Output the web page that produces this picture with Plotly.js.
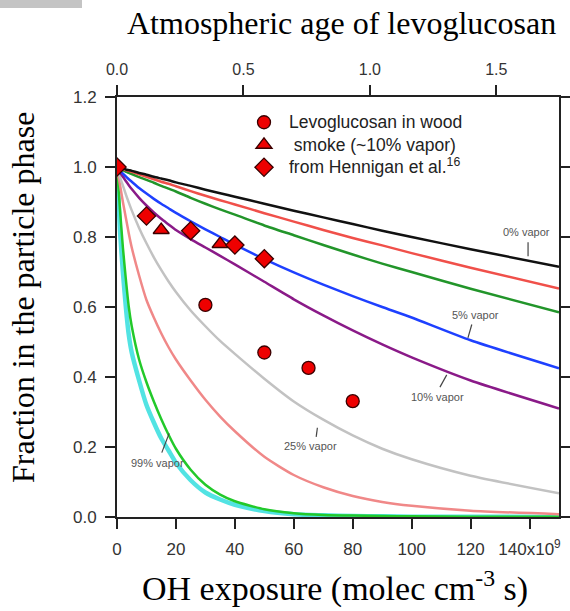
<!DOCTYPE html>
<html>
<head>
<meta charset="utf-8">
<script src="https://cdn.plot.ly/plotly-3.0.1.min.js"></script>
<style>
  html, body { margin: 0; padding: 0; background: #fff; }
  #chart { width: 570px; height: 611px; }
</style>
</head>
<body>
<div id="chart"></div>
<script>
// OH exposure grid (units of 1e9 molec cm-3 s)
const exposure = [0, 1, 2, 3, 4, 5, 7.5, 10, 12.5, 15, 17.5, 20, 25, 30, 35, 40, 50, 60, 70, 80, 90, 100, 120, 150];

// Modelled particle-phase fraction for different initial vapor fractions
const vapor0   = [1, 0.998, 0.996, 0.993, 0.991, 0.989, 0.983, 0.978, 0.972, 0.967, 0.962, 0.956, 0.946, 0.935, 0.925, 0.915, 0.895, 0.875, 0.856, 0.837, 0.818, 0.800, 0.765, 0.715];
const vaporA   = [1, 0.997, 0.994, 0.991, 0.989, 0.986, 0.979, 0.972, 0.965, 0.958, 0.952, 0.945, 0.931, 0.918, 0.905, 0.893, 0.868, 0.844, 0.820, 0.797, 0.776, 0.754, 0.712, 0.653];
const vaporB   = [1, 0.995, 0.991, 0.987, 0.983, 0.980, 0.971, 0.963, 0.955, 0.946, 0.938, 0.930, 0.912, 0.895, 0.879, 0.864, 0.833, 0.805, 0.777, 0.750, 0.724, 0.700, 0.652, 0.585];
const vapor5   = [1, 0.990, 0.981, 0.973, 0.965, 0.958, 0.940, 0.924, 0.909, 0.895, 0.882, 0.869, 0.845, 0.822, 0.800, 0.778, 0.737, 0.699, 0.664, 0.631, 0.600, 0.570, 0.505, 0.425];
const vapor10  = [1, 0.985, 0.972, 0.960, 0.948, 0.937, 0.912, 0.890, 0.870, 0.852, 0.836, 0.820, 0.794, 0.770, 0.746, 0.722, 0.672, 0.622, 0.576, 0.533, 0.493, 0.456, 0.390, 0.310];
const vapor25  = [1, 0.972, 0.947, 0.922, 0.898, 0.876, 0.826, 0.782, 0.742, 0.706, 0.673, 0.643, 0.590, 0.545, 0.503, 0.466, 0.395, 0.330, 0.278, 0.233, 0.195, 0.165, 0.118, 0.068];
const vaporC   = [1, 0.950, 0.900, 0.855, 0.810, 0.770, 0.690, 0.620, 0.570, 0.525, 0.485, 0.450, 0.390, 0.335, 0.287, 0.245, 0.172, 0.120, 0.085, 0.060, 0.043, 0.032, 0.018, 0.008];
const vaporD   = [1, 0.880, 0.770, 0.680, 0.600, 0.545, 0.450, 0.385, 0.330, 0.280, 0.235, 0.195, 0.135, 0.092, 0.064, 0.045, 0.022, 0.011, 0.006, 0.004, 0.003, 0.002, 0.001, 0.001];
const vapor99  = [1, 0.820, 0.700, 0.600, 0.520, 0.470, 0.390, 0.320, 0.270, 0.225, 0.190, 0.155, 0.105, 0.070, 0.050, 0.035, 0.017, 0.008, 0.005, 0.003, 0.002, 0.001, 0.001, 0.000];

// Measured levoglucosan in wood smoke (~10% vapor), Hennigan et al.
const woodExposure  = [30, 50, 65, 80];
const woodFraction  = [0.606, 0.470, 0.426, 0.331];
const smokeExposure = [15, 35];
const smokeFraction = [0.820, 0.780];
const hennExposure  = [0, 10, 25, 40, 50];
const hennFraction  = [1.000, 0.860, 0.818, 0.777, 0.738];

// Axis ticks
const xTickVals  = [0, 20, 40, 60, 80, 100, 120, 140];
const xTickText  = ['0', '20', '40', '60', '80', '100', '120', '140x10<sup>9</sup>'];
const yTickVals  = [0, 0.2, 0.4, 0.6, 0.8, 1.0, 1.2];
const yTickText  = ['0.0', '0.2', '0.4', '0.6', '0.8', '1.0', '1.2'];
const ageTickVals = [0, 0.5, 1.0, 1.5];
const ageTickText = ['0.0', '0.5', '1.0', '1.5'];

// Curve labels
const curveLabels = ['0% vapor', '5% vapor', '10% vapor', '25% vapor', '99% vapor'];

// Legend names
const seriesNames = ['Levoglucosan in wood', ' smoke (~10% vapor)', 'from Hennigan et al.<sup>16</sup>'];

const SANS = 'Liberation Sans, Arial, sans-serif';
const SERIF = 'Liberation Serif, Times New Roman, serif';

const modelCurves = [
  { y: vapor99, color: '#52e3e3', width: 4.5 },
  { y: vaporD,  color: '#22c92a', width: 2.5 },
  { y: vaporC,  color: '#f08888', width: 2.5 },
  { y: vapor25, color: '#c2c2c2', width: 2.5 },
  { y: vapor10, color: '#8a1a88', width: 2.5 },
  { y: vapor5,  color: '#1e40ff', width: 2.5 },
  { y: vaporB,  color: '#22952a', width: 2.5 },
  { y: vaporA,  color: '#f0504a', width: 2.5 },
  { y: vapor0,  color: '#111111', width: 2.5 }
];

const traces = modelCurves.map(c => ({
  type: 'scatter', mode: 'lines', x: exposure, y: c.y,
  line: { color: c.color, width: c.width, shape: 'spline', smoothing: 0.6 },
  showlegend: false, hoverinfo: 'skip'
}));

// empty trace that brings the top (atmospheric age) axis into being
traces.push({
  type: 'scatter', mode: 'lines', x: [], y: [], xaxis: 'x2', yaxis: 'y',
  showlegend: false, hoverinfo: 'skip'
});

const legendName = s => '<span style="font-size:17.5px">' + s + '</span>';
const markerLine = { color: '#3a0000', width: 1.3 };
traces.push({
  type: 'scatter', mode: 'markers', x: woodExposure, y: woodFraction,
  name: legendName(seriesNames[0]), legendgroup: 'a',
  marker: { symbol: 'circle', size: 13, color: '#ee0000', line: markerLine }
});
traces.push({
  type: 'scatter', mode: 'markers', x: smokeExposure, y: smokeFraction,
  name: legendName(seriesNames[1]), legendgroup: 'b',
  marker: { symbol: 'triangle-up', size: 14, color: '#ee0000', line: markerLine }
});
traces.push({
  type: 'scatter', mode: 'markers', x: hennExposure, y: hennFraction,
  name: legendName(seriesNames[2]), legendgroup: 'c',
  marker: { symbol: 'diamond', size: 14, color: '#ee0000', line: markerLine }
});

const labelPos = [
  { x: 139.1, y: 0.814 },
  { x: 121.8, y: 0.577 },
  { x: 108.6, y: 0.343 },
  { x: 65.8,  y: 0.203 },
  { x: 13.6,  y: 0.154 }
];
const leaderPos = [
  { x0: 139.5, y0: 0.785, x1: 139.5, y1: 0.745 },
  { x0: 120.4, y0: 0.550, x1: 119.1, y1: 0.512 },
  { x0: 111.9, y0: 0.406, x1: 109.6, y1: 0.371 },
  { x0: 68.0,  y0: 0.255, x1: 67.6,  y1: 0.229 },
  { x0: 17.7,  y0: 0.239, x1: 15.2,  y1: 0.184 }
];

const annotations = curveLabels.map((t, i) => ({
  text: t, x: labelPos[i].x, y: labelPos[i].y, xref: 'x', yref: 'y',
  showarrow: false, font: { family: SANS, size: 11, color: '#555' }
}));

// axis titles
annotations.push({
  text: 'Atmospheric age of levoglucosan', xref: 'paper', yref: 'paper',
  x: (341 - 117) / 442, y: (517 - 23) / 420, xanchor: 'center', yanchor: 'middle', showarrow: false,
  font: { family: SERIF, size: 32, color: '#000' }
});
annotations.push({
  text: 'OH exposure (molec cm<sup>-3</sup> s)', xref: 'paper', yref: 'paper',
  x: (335 - 117) / 442, y: (517 - 586) / 420, xanchor: 'center', yanchor: 'middle', showarrow: false,
  font: { family: SERIF, size: 34, color: '#000' }
});
annotations.push({
  text: 'Fraction in the particle phase', xref: 'paper', yref: 'paper',
  x: (23 - 117) / 442, y: (517 - 298) / 420, xanchor: 'center', yanchor: 'middle', showarrow: false,
  textangle: -90, font: { family: SERIF, size: 32, color: '#000' }
});

const shapes = leaderPos.map(p => ({
  type: 'line', xref: 'x', yref: 'y', x0: p.x0, y0: p.y0, x1: p.x1, y1: p.y1,
  line: { color: '#444', width: 1.2 }
}));
shapes.push({
  type: 'rect', xref: 'paper', yref: 'paper',
  x0: -117 / 442, x1: (82 - 117) / 442, y0: (517 - 8) / 420, y1: 517 / 420,
  fillcolor: '#c4c4c4', line: { width: 0 }
});

const axisCommon = {
  showline: true, linecolor: '#222', linewidth: 2,
  ticks: 'outside', ticklen: 10, tickwidth: 2, tickcolor: '#222',
  showgrid: false, zeroline: false, fixedrange: true,
  tickfont: { family: SANS, size: 17, color: '#333' }
};

const layout = {
  width: 570, height: 611,
  margin: { l: 117, r: 11, t: 97, b: 94, pad: 0 },
  paper_bgcolor: '#fff', plot_bgcolor: '#fff',
  showlegend: true,
  legend: {
    x: (239 - 117) / 442, y: (517 - 106) / 420, xanchor: 'left', yanchor: 'top',
    bgcolor: 'rgba(0,0,0,0)', borderwidth: 0,
    font: { family: SANS, size: 15, color: '#222' },
    itemwidth: 40, traceorder: 'grouped', tracegroupgap: 0
  },
  xaxis: Object.assign({}, axisCommon, {
    range: [0, 150], tickmode: 'array', tickvals: xTickVals, ticktext: xTickText,
    ticklabelstandoff: 6
  }),
  xaxis2: Object.assign({}, axisCommon, {
    overlaying: 'x', side: 'top', anchor: 'y',
    range: [0, 1.748], tickmode: 'array', tickvals: ageTickVals, ticktext: ageTickText,
    tickfont: { family: SANS, size: 16, color: '#333' }, ticklabelstandoff: 4
  }),
  yaxis: Object.assign({}, axisCommon, {
    range: [0, 1.2], tickmode: 'array', tickvals: yTickVals, ticktext: yTickText,
    mirror: 'ticks', ticklabelstandoff: 5
  }),
  annotations: annotations,
  shapes: shapes
};

Plotly.newPlot('chart', traces, layout, { displayModeBar: false, staticPlot: true });
</script>
</body>
</html>
